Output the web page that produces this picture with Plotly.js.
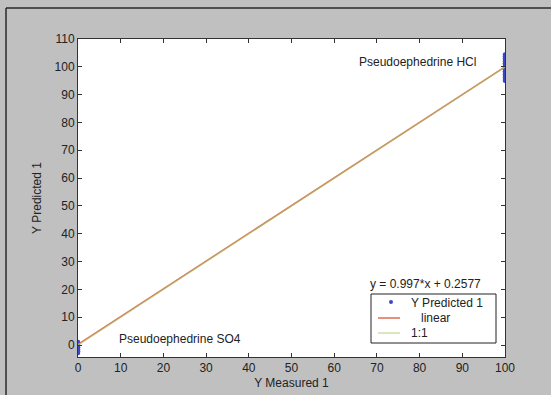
<!DOCTYPE html>
<html>
<head>
<meta charset="utf-8">
<script src="https://cdn.plot.ly/plotly-3.0.1.min.js"></script>
<style>
  html, body { margin: 0; padding: 0; background: #c0c0c0; }
  #plot { width: 551px; height: 395px; }
</style>
</head>
<body>
<div id="plot"></div>
<script>
// Measured / predicted samples
var measuredHigh = [100,100,100,100,100,100,100,100,100,100,100,100,100,100,100,100,100];
var predictedHigh = [95.0,95.6,96.2,96.8,97.3,97.9,98.4,99.0,99.5,100.1,100.7,101.3,101.9,102.5,103.1,103.8,104.4];
var measuredLow = [0,0,0,0,0,0,0];
var predictedLow = [-2.9,-2.2,-1.5,-0.8,-0.1,0.5,1.1];
var fitSlope = 0.997;
var fitIntercept = 0.2577;
var lineX = [0, 100];
var xTicks = [0,10,20,30,40,50,60,70,80,90,100];
var yTicks = [0,10,20,30,40,50,60,70,80,90,100,110];
var legendNames = ['Y Predicted 1', 'linear', '1:1'];

var markerColor = '#3a48c8';
var linearColor = '#dd6a50';
var oneColor = 'rgba(170,200,110,0.6)';

var ptsX = measuredLow.concat(measuredHigh);
var ptsY = predictedLow.concat(predictedHigh);
var fitY = lineX.map(function(x){ return fitSlope * x + fitIntercept; });

var traces = [
  { x: ptsX, y: ptsY, mode: 'markers', type: 'scatter', name: legendNames[0],
    marker: { color: markerColor, size: 4.5 } },
  { x: lineX, y: fitY, mode: 'lines', type: 'scatter', name: legendNames[1],
    line: { color: linearColor, width: 1.5 } },
  { x: lineX, y: lineX, mode: 'lines', type: 'scatter', name: legendNames[2],
    line: { color: oneColor, width: 1.5 } }
];

var font = { family: 'Liberation Sans, Arial, sans-serif', size: 12, color: '#222' };

// pixel -> paper helpers for the legend box (plot area 78..505 x 39..357)
function px(x) { return (x - 78) / 427; }
function py(y) { return (357 - y) / 318; }

var layout = {
  width: 551, height: 395,
  margin: { l: 78, r: 46, t: 39, b: 38 },
  paper_bgcolor: '#c0c0c0',
  plot_bgcolor: '#ffffff',
  font: font,
  showlegend: false,
  xaxis: {
    range: [0, 100], tickvals: xTicks, ticks: 'inside', ticklen: 4,
    showline: true, linecolor: '#333', linewidth: 1, mirror: 'ticks',
    tickcolor: '#333', showgrid: false, zeroline: false,
    tickfont: font,
    title: { text: 'Y Measured 1', font: font, standoff: 4 }
  },
  yaxis: {
    range: [-4.3, 110], tickvals: yTicks, ticks: 'inside', ticklen: 4,
    showline: true, linecolor: '#333', linewidth: 1, mirror: 'ticks',
    tickcolor: '#333', showgrid: false, zeroline: false,
    tickfont: font,
    title: { text: 'Y Predicted 1', font: font, standoff: 10 }
  },
  annotations: [
    { x: 79.6, y: 101.7, xref: 'x', yref: 'y', yanchor: 'middle', text: 'Pseudoephedrine HCl', showarrow: false, font: font },
    { x: 23.9, y: 2.2, xref: 'x', yref: 'y', yanchor: 'middle', text: 'Pseudoephedrine SO4', showarrow: false, font: font },
    { x: 81.4, y: 22, xref: 'x', yref: 'y', yanchor: 'middle', text: 'y = 0.997*x + 0.2577', showarrow: false, font: font },
    { x: px(409), y: py(303), xref: 'paper', yref: 'paper', xanchor: 'left', yanchor: 'middle', text: legendNames[0], showarrow: false, font: font },
    { x: px(419), y: py(318), xref: 'paper', yref: 'paper', xanchor: 'left', yanchor: 'middle', text: legendNames[1], showarrow: false, font: font },
    { x: px(409), y: py(333), xref: 'paper', yref: 'paper', xanchor: 'left', yanchor: 'middle', text: legendNames[2], showarrow: false, font: font }
  ],
  shapes: [
    { type: 'line', xref: 'paper', yref: 'paper', x0: -0.1686, x1: 1.2, y0: 1.0975, y1: 1.0975,
      line: { color: '#2a2a2a', width: 1.5 } },
    { type: 'line', xref: 'paper', yref: 'paper', x0: -0.1686, x1: -0.1686, y0: 1.0975, y1: -0.2,
      line: { color: '#2a2a2a', width: 1.5 } },
    // legend box
    { type: 'rect', xref: 'paper', yref: 'paper', x0: px(371), x1: px(496), y0: py(343), y1: py(294),
      fillcolor: '#ffffff', line: { color: '#222', width: 1 }, layer: 'above' },
    { type: 'circle', xref: 'paper', yref: 'paper', xsizemode: 'pixel', ysizemode: 'pixel',
      xanchor: px(391), yanchor: py(302), x0: -2, x1: 2, y0: -2, y1: 2,
      fillcolor: markerColor, line: { width: 0 }, layer: 'above' },
    { type: 'line', xref: 'paper', yref: 'paper', x0: px(378), x1: px(400), y0: py(318), y1: py(318),
      line: { color: linearColor, width: 1.5 }, layer: 'above' },
    { type: 'line', xref: 'paper', yref: 'paper', x0: px(378), x1: px(400), y0: py(333), y1: py(333),
      line: { color: oneColor, width: 1.5 }, layer: 'above' }
  ]
};

Plotly.newPlot('plot', traces, layout, { displayModeBar: false, staticPlot: true });
</script>
</body>
</html>
